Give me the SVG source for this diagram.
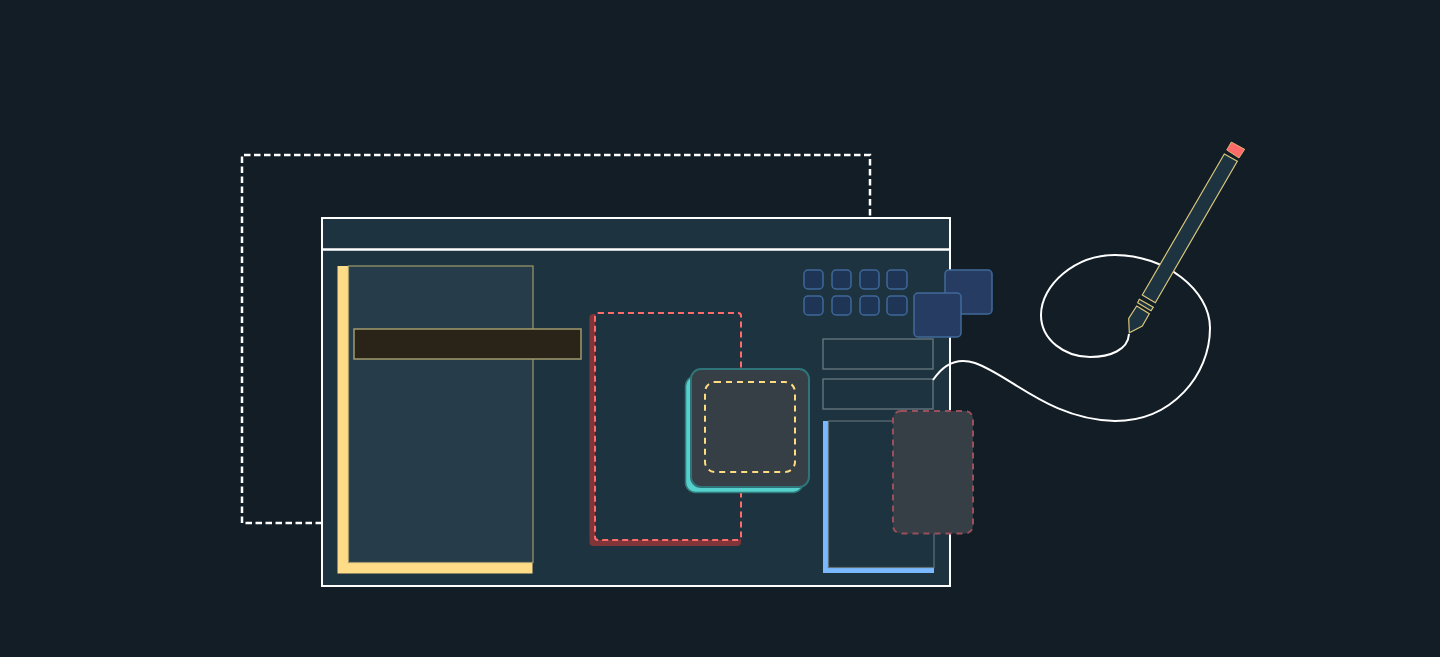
<svg xmlns="http://www.w3.org/2000/svg" width="1440" height="657" viewBox="0 0 1440 657">
<style>
.wire{fill:none;stroke:#fff;stroke-width:2}
.dash{stroke-width:2.5;stroke-dasharray:6.5 3.5}
.sm{fill:#1f3555;stroke:#3f689a;stroke-width:1.5}
.big{fill:#263c63;stroke:#41699a;stroke-width:1.5}
.inp{fill:#1e3340;stroke:#5f7078;stroke-width:1.5}
.tan{stroke:#a09a6c;stroke-width:1.5}
.pen{fill:#1e3340;stroke:#d8c67a;stroke-width:1.2}
</style>
<rect width="1440" height="657" fill="#121d26"/>
<g id="connectors">
<path class="wire dash" d="M322 523H242V155H870V218"/>
</g>
<g id="window">
<rect x="322" y="218" width="628" height="368" fill="#1e3340" stroke="#fff" stroke-width="2"/>
<path d="M322 249.500H950" stroke="#fff" stroke-width="2.400"/>
</g>
<g id="sidebar">
<rect x="337.500" y="266" width="195" height="307.500" fill="#ffdc88"/>
<rect x="348.500" y="266" width="184.500" height="296.500" fill="#263c4a" stroke="#a09a6c" stroke-width="1.200"/>
</g>
<g id="bar"><rect class="tan" x="354" y="329" width="227" height="30" fill="#2a2418"/></g>
<g id="red-panel">
<rect x="589.500" y="314" width="151.500" height="232" rx="4" fill="#823539"/>
<rect x="595" y="313" width="146" height="227" rx="3" fill="#1e3340" stroke="#ff6b6b" stroke-width="2" stroke-dasharray="6 4"/>
</g>
<g id="teal-card">
<rect x="685.500" y="376" width="117.500" height="116.500" rx="10" fill="#56d0cc" stroke="#2f7a7a" stroke-width="1.500"/>
<rect x="691" y="369" width="118" height="118" rx="10" fill="#353f45" stroke="#2f7479" stroke-width="2"/>
<rect x="705" y="382" width="90" height="90" rx="10" fill="none" stroke="#ffdc80" stroke-width="2" stroke-dasharray="6 5"/>
</g>
<g id="small-buttons">
<rect class="sm" x="804" y="270" width="19" height="19" rx="4"/>
<rect class="sm" x="832" y="270" width="19" height="19" rx="4"/>
<rect class="sm" x="860" y="270" width="19" height="19" rx="4"/>
<rect class="sm" x="887" y="270" width="20" height="19" rx="4"/>
<rect class="sm" x="804" y="296" width="19" height="19" rx="4"/>
<rect class="sm" x="832" y="296" width="19" height="19" rx="4"/>
<rect class="sm" x="860" y="296" width="19" height="19" rx="4"/>
<rect class="sm" x="887" y="296" width="20" height="19" rx="4"/>
</g>
<g id="big-squares">
<rect class="big" x="945" y="270" width="47" height="44" rx="4"/>
<rect class="big" x="914" y="293" width="47" height="44" rx="4"/>
</g>
<g id="inputs">
<rect class="inp" x="823" y="339" width="110" height="30"/>
<rect class="inp" x="823" y="379" width="110" height="30"/>
</g>
<g id="blue-panel">
<rect x="823" y="421" width="111" height="152" fill="#7ab8ff"/>
<rect x="828.500" y="421" width="105.500" height="146.500" fill="#1e3340" stroke="#5f7078" stroke-width="1.200"/>
</g>
<g id="pink-card">
<rect x="893" y="411" width="80" height="122.500" rx="8" fill="#353f45" stroke="#9b4f5a" stroke-width="2" stroke-dasharray="6 5"/>
</g>
<g id="scribble">
<path class="wire" d="M933 380C945 362 960 358 975 363C1010 375 1050 420 1115 421C1172 421 1210 375 1210 328C1210 290 1165 255 1115 255C1075 255 1041 285 1041 315C1041 340 1065 357 1090 357C1110 357 1128 350 1129 334"/>
</g>
<g id="pen">
<polygon class="pen" points="1224.300,154 1237.300,161.300 1155.300,302.700 1142.300,295"/>
<polygon points="1231.300,142 1244.700,149.300 1239,158 1226.700,150" fill="#ff6b6b" stroke="#e8c878" stroke-width=".8"/>
<polygon class="pen" points="1139.300,299.300 1153.300,307.300 1151,310.700 1137.700,302.700"/>
<polygon class="pen" points="1136.700,306 1149.300,313.700 1142.300,326 1129.300,332.700 1128.700,318.300"/>
</g>
</svg>
